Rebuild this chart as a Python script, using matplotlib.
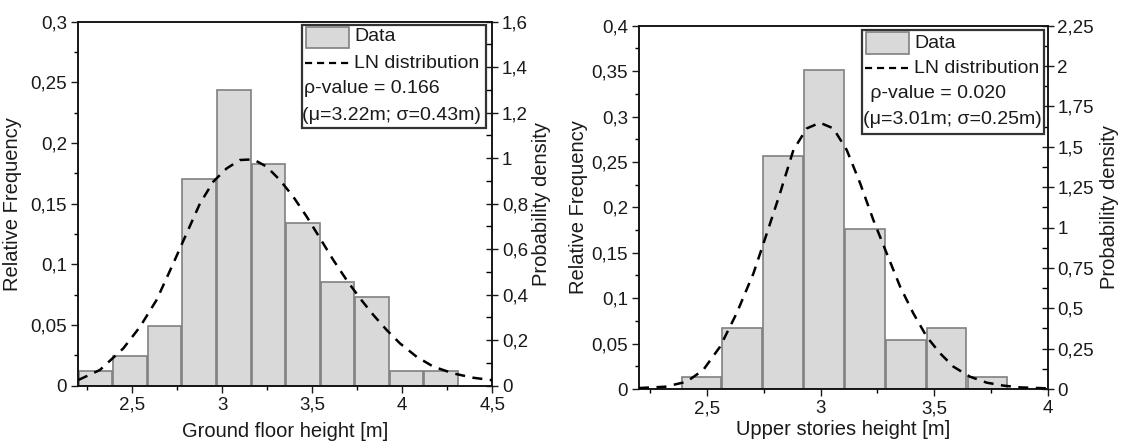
import matplotlib
matplotlib.use("Agg")
import matplotlib.pyplot as plt
from matplotlib.patches import Rectangle
from matplotlib.lines import Line2D
from matplotlib.ticker import FixedLocator, MultipleLocator

plt.rcParams['font.family'] = ['Liberation Sans', 'DejaVu Sans']

# ---------------- data: ground floor ----------------
gf_bin_left = [2.2, 2.392, 2.584, 2.776, 2.968, 3.16, 3.352, 3.544, 3.736, 3.928, 4.12]
gf_bin_width = 0.192
gf_rel_freq = [0.0122, 0.0244, 0.0488, 0.1707, 0.2439, 0.1829, 0.1341, 0.0854, 0.0732, 0.0122, 0.0122]
gf_curve_x = [2.2, 2.32, 2.45, 2.543, 2.635, 2.728, 2.802, 2.876, 2.95, 3.024, 3.098, 3.172,
              3.246, 3.32, 3.394, 3.469, 3.543, 3.617, 3.691, 3.765, 3.839, 3.913, 3.987,
              4.08, 4.172, 4.283, 4.394, 4.5]
gf_curve_y = [0.025, 0.069, 0.164, 0.259, 0.377, 0.538, 0.670, 0.801, 0.897, 0.955, 0.992, 0.995,
              0.963, 0.904, 0.831, 0.743, 0.648, 0.552, 0.464, 0.384, 0.311, 0.245, 0.186,
              0.127, 0.084, 0.054, 0.035, 0.024]
gf_left_ticks = [0, 0.05, 0.1, 0.15, 0.2, 0.25, 0.3]
gf_left_labels = ["0", "0,05", "0,1", "0,15", "0,2", "0,25", "0,3"]
gf_right_ticks = [0, 0.2, 0.4, 0.6, 0.8, 1.0, 1.2, 1.4, 1.6]
gf_right_labels = ["0", "0,2", "0,4", "0,6", "0,8", "1", "1,2", "1,4", "1,6"]
gf_x_ticks = [2.5, 3.0, 3.5, 4.0, 4.5]
gf_x_labels = ["2,5", "3", "3,5", "4", "4,5"]
gf_legend = ["Data", "LN distribution", "\u03c1-value = 0.166", "(\u03bc=3.22m; \u03c3=0.43m)"]

# ---------------- data: upper stories ----------------
us_bin_left = [2.385, 2.565, 2.745, 2.925, 3.105, 3.285, 3.465, 3.645]
us_bin_width = 0.18
us_rel_freq = [0.0135, 0.0676, 0.2568, 0.3514, 0.1757, 0.0541, 0.0676, 0.0135]
us_curve_x = [2.2, 2.315, 2.41, 2.483, 2.557, 2.63, 2.704, 2.763, 2.821, 2.88, 2.939, 2.997,
              3.056, 3.115, 3.174, 3.232, 3.291, 3.35, 3.408, 3.467, 3.526, 3.585, 3.658,
              3.732, 3.805, 3.878, 4.0]
us_curve_y = [0.006, 0.014, 0.045, 0.118, 0.262, 0.469, 0.716, 0.964, 1.212, 1.480, 1.614, 1.649,
              1.614, 1.480, 1.274, 1.047, 0.840, 0.634, 0.469, 0.324, 0.221, 0.138, 0.076,
              0.039, 0.021, 0.010, 0.004]
us_left_ticks = [0, 0.05, 0.1, 0.15, 0.2, 0.25, 0.3, 0.35, 0.4]
us_left_labels = ["0", "0,05", "0,1", "0,15", "0,2", "0,25", "0,3", "0,35", "0,4"]
us_right_ticks = [0, 0.25, 0.5, 0.75, 1.0, 1.25, 1.5, 1.75, 2.0, 2.25]
us_right_labels = ["0", "0,25", "0,5", "0,75", "1", "1,25", "1,5", "1,75", "2", "2,25"]
us_x_ticks = [2.5, 3.0, 3.5, 4.0]
us_x_labels = ["2,5", "3", "3,5", "4"]
us_legend = ["Data", "LN distribution", " \u03c1-value = 0.020", "(\u03bc=3.01m; \u03c3=0.25m)"]

W, H = 1124, 444
fig = plt.figure(figsize=(W / 100, H / 100), dpi=100)

BAR_FACE = "#d9d9d9"
BAR_EDGE = "#808080"
TXT = "#1a1a1a"
FS_TICK = 13.5
FS_LAB = 14.5
FS_LEG = 14


def px(x0, y0, x1, y1):
    return [x0 / W, 1 - y1 / H, (x1 - x0) / W, (y1 - y0) / H]


def panel(rect, bin_left, bw, freq, cx, cy, xlim, ylim_l, ylim_r,
          lt, ll, rt, rl, xt, xl, lminor, rminor, xlabel,
          ylab_x, ylab2_x, xlab_y, leg_box, leg_items, texts):
    ax = fig.add_axes(rect)
    centers = [b + bw / 2 for b in bin_left]
    ax.bar(centers, freq, width=bw * 0.97, color=BAR_FACE, edgecolor=BAR_EDGE,
           linewidth=1.2, zorder=2)
    ax.set_xlim(*xlim)
    ax.set_ylim(*ylim_l)
    ax.yaxis.set_major_locator(FixedLocator(lt))
    ax.set_yticklabels(ll)
    ax.yaxis.set_minor_locator(MultipleLocator(lminor))
    ax.xaxis.set_major_locator(FixedLocator(xt))
    ax.set_xticklabels(xl)
    ax.xaxis.set_minor_locator(MultipleLocator(0.25))
    ax.tick_params(axis='both', which='major', direction='out', length=5, width=1.0,
                   labelsize=FS_TICK, colors=TXT, pad=3)
    ax.tick_params(axis='both', which='minor', direction='out', length=3, width=1.0)
    ax.tick_params(axis='y', right=False)
    ax.tick_params(axis='x', top=False, pad=3)
    for s in ax.spines.values():
        s.set_linewidth(1.1)
        s.set_color("#111111")
    ax.set_ylabel("Relative Frequency", fontsize=FS_LAB, color=TXT, va='center')
    ax.yaxis.set_label_coords(ylab_x, 0.5)
    ax.set_xlabel(xlabel, fontsize=FS_LAB, color=TXT, va='center')
    ax.xaxis.set_label_coords(0.5, xlab_y)

    ax2 = ax.twinx()
    ax2.plot(cx, cy, color="black", linewidth=1.8, linestyle=(0, (4, 3)), zorder=3,
             dash_capstyle='butt')
    ax2.set_ylim(*ylim_r)
    ax2.yaxis.set_major_locator(FixedLocator(rt))
    ax2.set_yticklabels(rl)
    ax2.yaxis.set_minor_locator(MultipleLocator(rminor))
    ax2.tick_params(axis='y', which='major', direction='inout', length=8, width=1.0,
                    labelsize=FS_TICK, colors=TXT, pad=3)
    ax2.tick_params(axis='y', which='minor', direction='in', length=4, width=1.0)
    for s in ax2.spines.values():
        s.set_linewidth(1.1)
        s.set_color("#111111")
    ax2.set_ylabel("Probability density", fontsize=FS_LAB, color=TXT, va='center')
    ax2.yaxis.set_label_coords(ylab2_x, 0.5)

    # custom legend (figure pixel coordinates)
    bx0, by0, bx1, by1 = leg_box
    fig.patches.append(Rectangle((bx0 / W, 1 - by1 / H), (bx1 - bx0) / W, (by1 - by0) / H,
                                 transform=fig.transFigure, facecolor="white",
                                 edgecolor="#333333", linewidth=1.6, zorder=5))
    (pr, tx_data, y_data, ln, tx_ln, y_ln, tx_p, y_p, tx_m, y_m) = leg_items
    fig.patches.append(Rectangle((pr[0] / W, 1 - pr[3] / H), (pr[2] - pr[0]) / W,
                                 (pr[3] - pr[1]) / H, transform=fig.transFigure,
                                 facecolor=BAR_FACE, edgecolor=BAR_EDGE, linewidth=1.2, zorder=6))
    fig.lines.append(Line2D([ln[0] / W, ln[1] / W], [1 - y_ln / H, 1 - y_ln / H],
                            transform=fig.transFigure, color="black", linewidth=1.6,
                            linestyle=(0, (3.2, 2.2)), zorder=6))
    for (tx, ty), s in zip([(tx_data, y_data), (tx_ln, y_ln), (tx_p, y_p), (tx_m, y_m)], texts):
        fig.text(tx / W, 1 - ty / H, s, fontsize=FS_LEG, color=TXT,
                 va='center', ha='left', zorder=7)
    return ax, ax2


gf_leg_items = ((305.7, 26.7, 349.0, 48.3), 354.3, 36.7, (305.0, 350.0), 354.3, 63.3,
                304.0, 88.3, 302.5, 115.0)
us_leg_items = ((865.7, 32.3, 908.7, 54.0), 914.0, 43.3, (865.0, 908.0), 914.0, 68.3,
                865.0, 93.3, 863.3, 120.0)

panel(px(78.3, 21.7, 492.3, 385.7), gf_bin_left, gf_bin_width, gf_rel_freq,
      gf_curve_x, gf_curve_y, (2.2, 4.5), (0, 0.3), (0, 1.6),
      gf_left_ticks, gf_left_labels, gf_right_ticks, gf_right_labels,
      gf_x_ticks, gf_x_labels, 0.025, 0.1, "Ground floor height [m]",
      -0.160, 1.118, -0.126, (302.3, 25.0, 485.7, 127.7), gf_leg_items, gf_legend)

panel(px(639.0, 25.7, 1047.7, 389.0), us_bin_left, us_bin_width, us_rel_freq,
      us_curve_x, us_curve_y, (2.2, 4.0), (0, 0.4), (0, 2.25),
      us_left_ticks, us_left_labels, us_right_ticks, us_right_labels,
      us_x_ticks, us_x_labels, 0.025, 0.125, "Upper stories height [m]",
      -0.149, 1.152, -0.111, (862.3, 30.0, 1044.0, 134.3), us_leg_items, us_legend)

fig.savefig("out.png", dpi=100, facecolor="white")
